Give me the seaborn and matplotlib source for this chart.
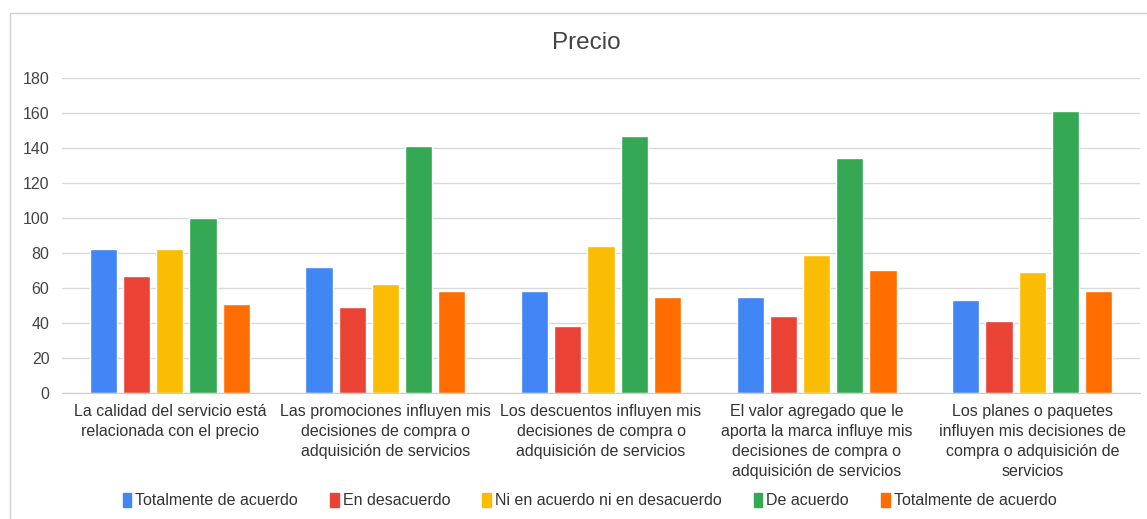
import matplotlib
matplotlib.use('Agg')
import matplotlib.pyplot as plt
import pandas as pd
import seaborn as sns
from matplotlib.patches import Rectangle

categories = ['La calidad del servicio está\nrelacionada con el precio',
              'Las promociones influyen mis\ndecisiones de compra o\nadquisición de servicios',
              'Los descuentos influyen mis\ndecisiones de compra o\nadquisición de servicios',
              'El valor agregado que le\naporta la marca influye mis\ndecisiones de compra o\nadquisición de servicios',
              'Los planes o paquetes\ninfluyen mis decisiones de\ncompra o adquisición de\nservicios']
series_names = ['Totalmente de acuerdo', 'En desacuerdo', 'Ni en acuerdo ni en desacuerdo',
                'De acuerdo', 'Totalmente de acuerdo']
tot_acuerdo_1 = [82, 72, 58, 55, 53]
en_desacuerdo = [67, 49, 38, 44, 41]
ni_ni = [82, 62, 84, 79, 69]
de_acuerdo = [100, 141, 147, 134, 161]
tot_acuerdo_2 = [51, 58, 55, 70, 58]
colors = ['#4285f4', '#ea4335', '#fbbc04', '#34a853', '#ff6d01']

# long form, hue keys kept unique because two series share a name
rows = []
for k, vals in enumerate([tot_acuerdo_1, en_desacuerdo, ni_ni, de_acuerdo, tot_acuerdo_2]):
    for c, v in zip(categories, vals):
        rows.append({'cat': c, 'serie': f's{k}', 'valor': v})
df = pd.DataFrame(rows)

sns.set_style('white')
plt.rcParams['font.family'] = ['Liberation Sans', 'DejaVu Sans']

fig = plt.figure(figsize=(11.47, 5.19), dpi=100)
ax = fig.add_axes([0.054, 0.243, 0.940, 0.607])
sns.barplot(data=df, x='cat', y='valor', hue='serie', order=categories,
            hue_order=[f's{k}' for k in range(5)],
            palette=dict(zip([f's{k}' for k in range(5)], colors)),
            width=0.77, gap=0.18, saturation=1, ax=ax, legend=False)

ax.set_ylim(0, 180)
ax.set_yticks(range(0, 181, 20))
ax.grid(axis='y', color='#d9d9d9', linewidth=1)
ax.set_axisbelow(True)
for s in ['top', 'right', 'left']:
    ax.spines[s].set_visible(False)
ax.spines['bottom'].set_color('#cccccc')
ax.tick_params(axis='y', length=0, colors='#444444', labelsize=11.5, pad=9)
ax.tick_params(axis='x', length=0, colors='#333333', labelsize=11.5, pad=8)
ax.set_xlabel('')
ax.set_ylabel('')
for t in ax.get_xticklabels():
    t.set_multialignment('center')
    t.set_linespacing(1.42)

fig.text(0.511, 0.917, 'Precio', ha='center', va='center', fontsize=17.5, color='#444444')

handles = [Rectangle((0, 0), 1, 1, color=c) for c in colors]
fig.legend(handles, series_names, loc='center', bbox_to_anchor=(0.514, 0.035), ncol=5,
           frameon=False, handlelength=0.55, handleheight=0.9, handletextpad=0.25,
           columnspacing=2.0, fontsize=11.5, labelcolor='#333333')

fig.patches.append(Rectangle((10 / 1147, -0.01), 1.01, 1 - 13 / 519 + 0.01,
                             transform=fig.transFigure, fill=False,
                             edgecolor='#d0d0d0', linewidth=1))

fig.savefig('out.png', dpi=100)
